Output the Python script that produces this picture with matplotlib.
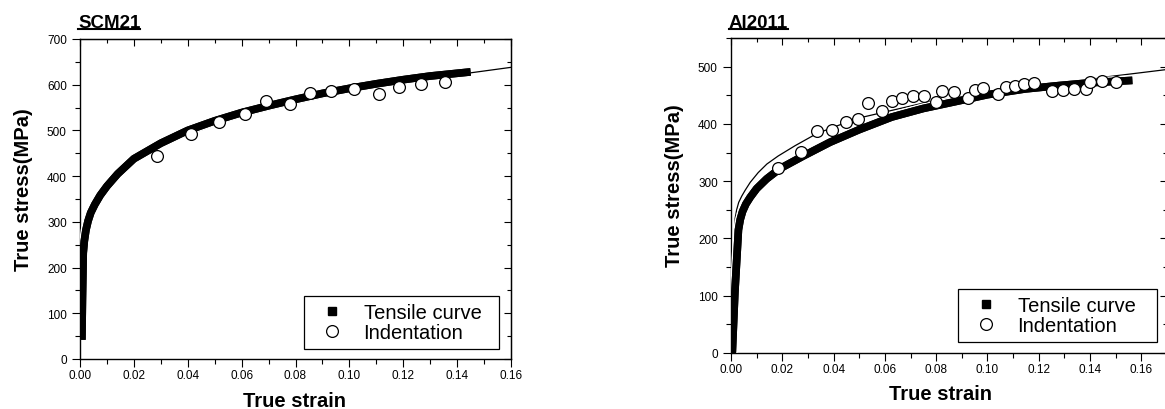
import matplotlib
matplotlib.use("Agg")
import matplotlib.pyplot as plt
import matplotlib.patheffects as pe
from matplotlib.lines import Line2D
from matplotlib.ticker import MultipleLocator

plt.rcParams['font.family'] = ['Liberation Sans', 'DejaVu Sans']

# ---- SCM21 data ----
tensile_strain_scm = [0.0007, 0.0009, 0.0012, 0.0016, 0.0022, 0.0030, 0.0040, 0.0055, 0.0075, 0.010,
                      0.014, 0.020, 0.030, 0.040, 0.050, 0.060, 0.070, 0.080, 0.090, 0.100,
                      0.110, 0.120, 0.130, 0.145]
tensile_stress_scm = [42, 130, 232, 258, 282, 302, 320, 338, 358, 378,
                      405, 438, 472, 500, 521, 539, 554, 568, 581, 592,
                      602, 611, 619, 628]
fit_strain_scm = [0.0, 0.0005, 0.0012, 0.0025, 0.0045, 0.007, 0.010, 0.020, 0.030, 0.040, 0.050,
                  0.060, 0.070, 0.080, 0.090, 0.100, 0.110, 0.120, 0.130, 0.140, 0.150, 0.160]
fit_stress_scm = [0, 150, 230, 292, 328, 352, 377, 430, 464, 490, 512,
                  530, 545, 559, 572, 584, 594, 604, 614, 622, 630, 638]
ind_strain_scm = [0.0287, 0.0413, 0.0516, 0.0611, 0.0692, 0.0780, 0.0853, 0.0931, 0.1017,
                  0.1111, 0.1186, 0.1266, 0.1356]
ind_stress_scm = [444, 492, 519, 535, 565, 557, 581, 587, 590, 580, 596, 601, 605]

# ---- Al2011 data ----
tensile_strain_al = [0.0005, 0.0015, 0.0029, 0.0036, 0.0045, 0.0058, 0.0075, 0.0100, 0.0139, 0.0191,
                     0.0282, 0.0386, 0.0500, 0.0627, 0.0750, 0.0886, 0.1000, 0.1146, 0.1280,
                     0.1406, 0.1565]
tensile_stress_al = [0, 105, 215, 233, 247, 260, 272, 287, 304, 322,
                     344, 368, 390, 412, 427, 440, 451, 461, 467,
                     472, 476]
fit_strain_al = [0.0005, 0.0016, 0.0022, 0.0030, 0.0042, 0.0055, 0.0075, 0.0106, 0.0140, 0.0184,
                 0.0250, 0.0334, 0.0410, 0.0496, 0.0756, 0.1016, 0.1276, 0.1536, 0.1700]
fit_stress_al = [0, 235, 250, 263, 274, 284, 298, 315, 330, 344,
                 362, 383, 396, 410, 437, 456, 472, 486, 495]
ind_strain_al = [0.0182, 0.0273, 0.0334, 0.0395, 0.0447, 0.0496, 0.0533, 0.0587, 0.0627, 0.0668,
                 0.0710, 0.0752, 0.0798, 0.0824, 0.0871, 0.0923, 0.0951, 0.0981, 0.1040, 0.1073,
                 0.1107, 0.1144, 0.1183, 0.1253, 0.1294, 0.1338, 0.1384, 0.1401, 0.1448, 0.1500]
ind_stress_al = [323, 351, 387, 390, 404, 408, 436, 422, 440, 446,
                 448, 449, 439, 457, 456, 445, 459, 463, 452, 464,
                 466, 469, 471, 458, 459, 461, 461, 474, 475, 474]

W, H = 1165, 410
fig = plt.figure(figsize=(W / 100, H / 100), dpi=100)

panels = [
    dict(title="SCM21", rect=(80, 40, 511, 360), xmax=0.16, ymax=700,
         ts=tensile_strain_scm, ty=tensile_stress_scm, fs=fit_strain_scm, fy=fit_stress_scm,
         ist=ind_strain_scm, isy=ind_stress_scm, xlab=0.497, leg=(0.520, 0.031, 0.452, 0.2)),
    dict(title="Al2011", rect=(731, 39, 1167, 354), xmax=0.17, ymax=550,
         ts=tensile_strain_al, ty=tensile_stress_al, fs=fit_strain_al, fy=fit_stress_al,
         ist=ind_strain_al, isy=ind_stress_al, xlab=0.48, leg=(0.521, 0.035, 0.456, 0.2)),
]

titles = []
for p in panels:
    x0, y0, x1, y1 = p["rect"]
    ax = fig.add_axes([x0 / W, 1 - y1 / H, (x1 - x0) / W, (y1 - y0) / H])

    # fit line underneath, tensile band with a white rim, circles on top
    ax.plot(p["fs"], p["fy"], color='k', lw=0.9, zorder=2)
    ax.plot(p["ts"], p["ty"], color='k', lw=5.5, solid_capstyle='butt', solid_joinstyle='round',
            zorder=3, path_effects=[pe.withStroke(linewidth=7.5, foreground='white'), pe.Normal()])
    ax.plot(p["ist"], p["isy"], ls='none', marker='o', ms=8.5, mfc='white', mec='k',
            mew=0.9, zorder=4)

    ax.set_xlim(0, p["xmax"])
    ax.set_ylim(0, p["ymax"])
    ax.xaxis.set_major_locator(MultipleLocator(0.02))
    ax.xaxis.set_minor_locator(MultipleLocator(0.01))
    ax.yaxis.set_major_locator(MultipleLocator(100))
    ax.yaxis.set_minor_locator(MultipleLocator(50))
    ax.xaxis.set_major_formatter(matplotlib.ticker.FormatStrFormatter('%.2f'))
    ax.tick_params(which='both', direction='out', width=0.8, labelsize=8.5)
    ax.tick_params(which='major', length=6)
    ax.tick_params(which='minor', length=3.5)
    ax.tick_params(axis='x', pad=1)
    ax.tick_params(axis='y', pad=3.5)
    for s in ax.spines.values():
        s.set_linewidth(1.0)

    secx = ax.secondary_xaxis('top')
    secx.xaxis.set_major_locator(MultipleLocator(0.02))
    secx.xaxis.set_minor_locator(MultipleLocator(0.01))
    secx.tick_params(which='both', direction='in', labeltop=False, width=0.8)
    secx.tick_params(which='major', length=5)
    secx.tick_params(which='minor', length=3)
    secy = ax.secondary_yaxis('right')
    secy.yaxis.set_major_locator(MultipleLocator(100))
    secy.yaxis.set_minor_locator(MultipleLocator(50))
    secy.tick_params(which='both', direction='in', labelright=False, width=0.8)
    secy.tick_params(which='major', length=5)
    secy.tick_params(which='minor', length=3)

    ax.set_xlabel("True strain", fontsize=14.5, fontweight='bold')
    ax.set_ylabel("True stress(MPa)", fontsize=14.5, fontweight='bold')
    ax.xaxis.set_label_coords(p["xlab"], -0.10)
    ax.yaxis.set_label_coords(-0.108, 0.533)

    handles = [
        Line2D([], [], ls='none', marker='s', ms=5.8, color='k'),
        Line2D([], [], ls='none', marker='o', ms=8.5, mfc='white', mec='k', mew=0.9),
    ]
    leg = ax.legend(handles, ["Tensile curve", "Indentation"], loc='lower left',
                    bbox_to_anchor=p["leg"], mode='expand', borderaxespad=0, fontsize=14.5,
                    frameon=True, fancybox=False, framealpha=1, edgecolor='k',
                    handlelength=2.1, handletextpad=0.5, labelspacing=0.05,
                    borderpad=0.35)
    leg.get_frame().set_linewidth(0.9)

    t = fig.text((x0 - 2) / W, 1 - 28 / H, p["title"], fontsize=13.5, fontweight='bold',
                 ha='left', va='baseline')
    titles.append(t)

# underline the panel titles
fig.canvas.draw()
for t in titles:
    bb = t.get_window_extent()
    y = 1 - 30 / H
    fig.add_artist(Line2D([bb.x0 / W, bb.x1 / W], [y, y], color='k', lw=1.5))

fig.savefig("out.png", dpi=100)
